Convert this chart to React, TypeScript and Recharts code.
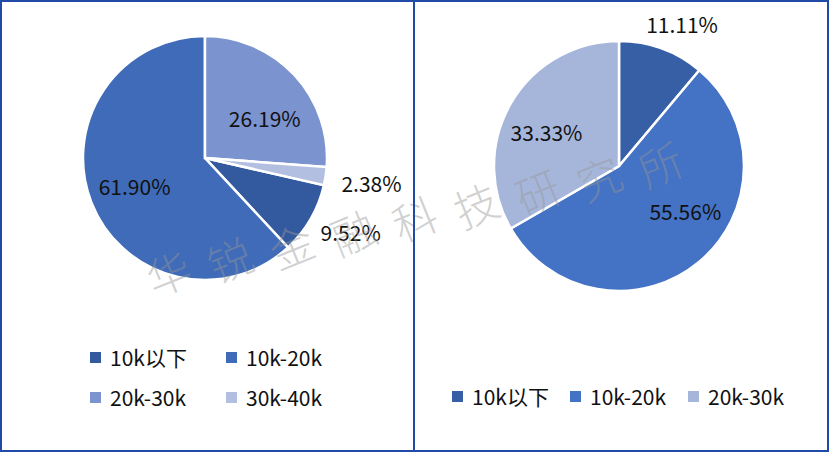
import React from 'react'
import { PieChart, Pie, Cell, Legend } from 'recharts'

const leftCategories = ['10k以下', '10k-20k', '20k-30k', '30k-40k']
const leftValues = [9.52, 61.9, 26.19, 2.38]
const leftColors = ['#335a9e', '#3f6bb8', '#7b93cf', '#b3bfe0']

const rightCategories = ['10k以下', '10k-20k', '20k-30k']
const rightValues = [11.11, 55.56, 33.33]
const rightColors = ['#365fa6', '#4472c4', '#a6b6db']

const watermark = '华锐金融科技研究所'

// label placement: radius factor of outer radius, clockwise angle nudge in degrees
const leftLabelPos = [
  { r: 1.34, nudge: -3 },
  { r: 0.62, nudge: 0 },
  { r: 0.59, nudge: 9 },
  { r: 1.38, nudge: 0 },
]
const rightLabelPos = [
  { r: 1.24, nudge: 4 },
  { r: 0.64, nudge: -16 },
  { r: 0.64, nudge: -5 },
]

const FONT = '"Noto Sans CJK SC", "Noto Sans", sans-serif'
const RAD = Math.PI / 180

const makeLabel = (pos: { r: number; nudge: number }[]) => (props: any) => {
  const { cx, cy, midAngle, outerRadius, index, value } = props
  const p = pos[index]
  const a = (midAngle - p.nudge) * RAD
  const x = cx + outerRadius * p.r * Math.cos(-a)
  const y = cy + outerRadius * p.r * Math.sin(-a)
  return (
    <text x={x} y={y} textAnchor="middle" dominantBaseline="central" fill="#111" fontSize={21} fontFamily={FONT}>
      {value.toFixed(2)}%
    </text>
  )
}

const legendContent = (cats: string[], colors: string[], cols: number, colW: number) => () => (
  <div style={{ display: 'grid', gridTemplateColumns: `repeat(${cols}, ${colW}px)`, rowGap: 16, fontFamily: FONT, fontSize: 21, color: '#111' }}>
    {cats.map((c, i) => (
      <div key={c} style={{ display: 'flex', alignItems: 'center', height: 24 }}>
        <span style={{ width: 11, height: 11, background: colors[i], marginRight: 9, display: 'inline-block' }} />
        <span>{c}</span>
      </div>
    ))}
  </div>
)

export default function App() {
  const leftData = leftCategories.map((name, i) => ({ name, value: leftValues[i] }))
  const rightData = rightCategories.map((name, i) => ({ name, value: rightValues[i] }))
  return (
    <div style={{ position: 'fixed', left: 0, top: 0, width: 829, height: 452, background: '#fff', overflow: 'hidden' }}>
      <div style={{ position: 'absolute', left: 0, top: 0 }}>
        <PieChart width={414} height={452} margin={{ top: 0, right: 0, bottom: 0, left: 0 }}>
          <Pie
            data={leftData}
            dataKey="value"
            nameKey="name"
            cx={205}
            cy={158}
            outerRadius={122}
            startAngle={-12.85}
            endAngle={-372.85}
            stroke="#fff"
            strokeWidth={2.5}
            label={makeLabel(leftLabelPos)}
            labelLine={false}
            isAnimationActive={false}
          >
            {leftData.map((d, i) => (
              <Cell key={d.name} fill={leftColors[i]} />
            ))}
          </Pie>
          <Legend
            content={legendContent(leftCategories, leftColors, 2, 136)}
            wrapperStyle={{ position: 'absolute', left: 90, top: 345, width: 300 }}
          />
        </PieChart>
      </div>
      <div style={{ position: 'absolute', left: 414, top: 0 }}>
        <PieChart width={415} height={452} margin={{ top: 0, right: 0, bottom: 0, left: 0 }}>
          <Pie
            data={rightData}
            dataKey="value"
            nameKey="name"
            cx={205}
            cy={166}
            outerRadius={125}
            startAngle={90}
            endAngle={-270}
            stroke="#fff"
            strokeWidth={2.5}
            label={makeLabel(rightLabelPos)}
            labelLine={false}
            isAnimationActive={false}
          >
            {rightData.map((d, i) => (
              <Cell key={d.name} fill={rightColors[i]} />
            ))}
          </Pie>
          <Legend
            content={legendContent(rightCategories, rightColors, 3, 118)}
            wrapperStyle={{ position: 'absolute', left: 38, top: 384, width: 370 }}
          />
        </PieChart>
      </div>
      <svg width={829} height={452} style={{ position: 'absolute', left: 0, top: 0, pointerEvents: 'none' }}>
        {watermark.split('').map((ch, i) => {
          const x = 168 + i * 61.5
          const y = 272 - i * 13.6
          return (
            <text
              key={i}
              x={x}
              y={y}
              textAnchor="middle"
              dominantBaseline="central"
              fontSize={44}
              fontFamily={FONT}
              fontWeight={300}
              fill="rgba(150,150,150,0.45)"
              transform={`rotate(-22 ${x} ${y})`}
            >
              {ch}
            </text>
          )
        })}
        <rect x={1} y={1} width={827} height={450} fill="none" stroke="#1f4aa8" strokeWidth={2} />
        <line x1={414} y1={0} x2={414} y2={452} stroke="#1f4aa8" strokeWidth={2} />
      </svg>
    </div>
  )
}
